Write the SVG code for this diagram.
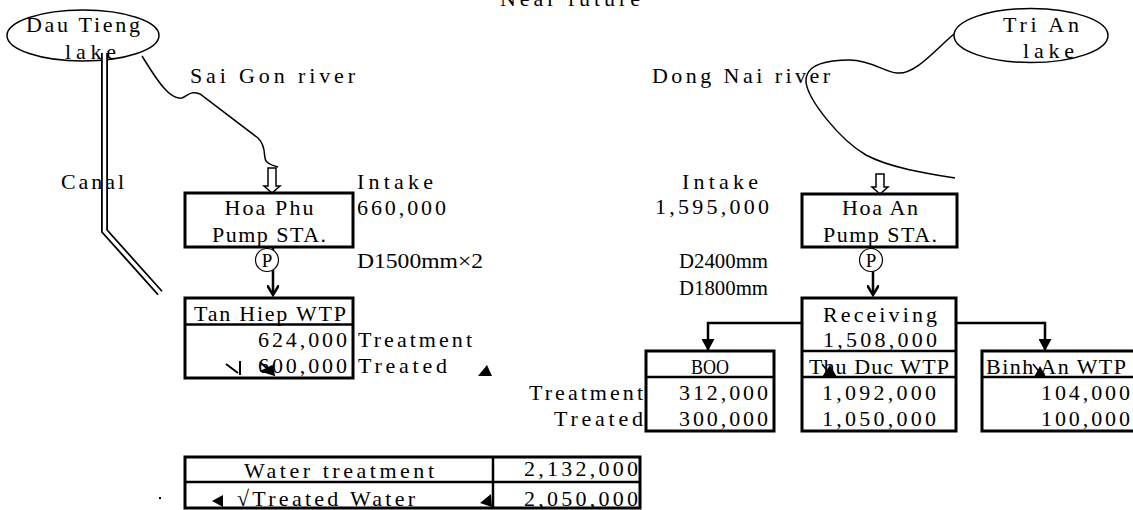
<svg xmlns="http://www.w3.org/2000/svg" width="1133" height="510" viewBox="0 0 1133 510">
<style>
.t{font-family:"Liberation Serif","DejaVu Serif",serif;font-size:22px;fill:#000}
.m{text-anchor:middle}
.e{text-anchor:end}
.pc{fill:#fff;stroke:#000;stroke-width:1.2}
.pt{font-family:"Liberation Serif",serif;font-size:19px;fill:#000;text-anchor:middle}
.box{fill:#fff;stroke:#000;stroke-width:3}
.div{fill:none;stroke:#000;stroke-width:2.5}
.ln{fill:none;stroke:#000;stroke-width:2.5}
.thin{fill:none;stroke:#000;stroke-width:1.5}
.hollow{fill:#fff;stroke:#000;stroke-width:1.5}
.tri{fill:#000;stroke:none}
</style>
<defs>
<marker id="vee" markerWidth="12" markerHeight="12" viewBox="0 0 12 12" refX="10" refY="6" orient="auto" markerUnits="userSpaceOnUse">
<path d="M0,0 L10,6 L0,12" fill="none" stroke="#000" stroke-width="2.5"/>
</marker>
<marker id="solid" markerWidth="13" markerHeight="13" viewBox="0 0 13 13" refX="12" refY="6.5" orient="auto" markerUnits="userSpaceOnUse">
<path d="M0,0 L12,6.5 L0,13 Z" fill="#000"/>
</marker>
</defs>

<text class="t m" x="570" y="6" textLength="140">Near future</text>

<g id="dau-tieng-lake">
<ellipse cx="83" cy="35.5" rx="76" ry="25.5" fill="none" stroke="#000" stroke-width="1.5"/>
<text class="t" x="26" y="32" textLength="114">Dau Tieng</text>
<text class="t" x="65" y="59" textLength="51">lake</text>
</g>

<g id="tri-an-lake">
<ellipse cx="1031" cy="35.5" rx="77" ry="27" fill="none" stroke="#000" stroke-width="1.5"/>
<text class="t" x="1003" y="32" textLength="76">Tri An</text>
<text class="t" x="1023" y="58" textLength="51">lake</text>
</g>

<g id="labels">
<text class="t" x="190" y="83" textLength="165">Sai Gon river</text>
<text class="t" x="652" y="83" textLength="178">Dong Nai river</text>
<text class="t" x="61" y="189" textLength="63">Canal</text>
<text class="t" x="357" y="189" textLength="76">Intake</text>
<text class="t" x="357" y="215" textLength="89">660,000</text>
<text class="t" x="357" y="268" textLength="126" lengthAdjust="spacingAndGlyphs">D1500mm×2</text>
<text class="t" x="682" y="189" textLength="76">Intake</text>
<text class="t" x="655" y="214" textLength="114">1,595,000</text>
<text class="t" x="679" y="268" textLength="89" lengthAdjust="spacingAndGlyphs">D2400mm</text>
<text class="t" x="679" y="295" textLength="89" lengthAdjust="spacingAndGlyphs">D1800mm</text>
<text class="t e" x="643" y="400" textLength="114">Treatment</text>
<text class="t e" x="643" y="426" textLength="89">Treated</text>
</g>

<g id="connectors">
<path d="M104.5,53 L104.5,231 L160,293" fill="none" stroke="#000" stroke-width="7"/>
<path d="M104.5,52 L104.5,231 L161,294" fill="none" stroke="#fff" stroke-width="3.4"/>
<path class="thin" d="M142,56 C158,82 170,100 182,98 C188,96 190,90 200,94 L258,138 C268,148 262,158 267,162 C270,165 274,166 278,167"/>
<path class="thin" d="M954,34 C935,50 915,75 897,73 C885,72 870,60 850,60 C830,60 805,63 806,82 C808,100 840,140 866,155 C890,168 930,174 955,178"/>
<path class="hollow" d="M268,168 L276,168 L276,186 L280,186 L272,193 L264,186 L268,186 Z"/>
<path class="hollow" d="M876,174 L884,174 L884,187 L888,187 L880,194 L872,187 L876,187 Z"/>
<path class="ln" d="M273,247 L273,295" marker-end="url(#vee)"/>
<path class="ln" d="M873,247 L873,295" marker-end="url(#vee)"/>
<path class="ln" d="M802,323 L708,323 L708,351" marker-end="url(#solid)"/>
<path class="ln" d="M956,323 L1045,323 L1045,351" marker-end="url(#solid)"/>
</g>

<g id="hoa-phu-pump">
<rect class="box" x="185" y="193" width="168" height="54"/>
<text class="t m" x="269" y="215" textLength="89">Hoa Phu</text>
<text class="t m" x="269" y="242" textLength="114">Pump STA.</text>
<circle class="pc" cx="267" cy="260" r="11.5" fill="none"/>
<text class="pt" x="267" y="267">P</text>
</g>

<g id="hoa-an-pump">
<rect class="box" x="802" y="194" width="155" height="53"/>
<text class="t m" x="880" y="215" textLength="76">Hoa An</text>
<text class="t m" x="880" y="242" textLength="114">Pump STA.</text>
<circle class="pc" cx="871" cy="260" r="11.5" fill="none"/>
<text class="pt" x="871" y="267">P</text>
</g>

<g id="tan-hiep-wtp">
<rect class="box" x="185" y="298" width="168" height="80"/>
<line class="div" x1="185" y1="324.5" x2="353" y2="324.5"/>
<text class="t m" x="270" y="321" textLength="152">Tan Hiep WTP</text>
<text class="t e" x="347" y="347" textLength="89">624,000</text>
<text class="t e" x="347" y="373" textLength="89">600,000</text>
<text class="t" x="358" y="347" textLength="114">Treatment</text>
<text class="t" x="358" y="373" textLength="89">Treated</text>
<path d="M226,364 L238,373 M240,361 L240,375" fill="none" stroke="#000" stroke-width="2"/>
<path d="M260,362 L273,374 M262,371 L272,366 L274,375 Z" fill="#000" stroke="#000" stroke-width="1.8"/>
<path class="tri" d="M478,376 L487,365 L492,376 Z"/>
</g>

<g id="receiving-thu-duc">
<rect class="box" x="802" y="298" width="154" height="133"/>
<line class="div" x1="802" y1="351" x2="956" y2="351"/>
<line class="div" x1="802" y1="377" x2="956" y2="377"/>
<text class="t m" x="880" y="322" textLength="114">Receiving</text>
<text class="t m" x="880" y="347" textLength="114">1,508,000</text>
<text class="t m" x="879" y="374" textLength="140">Thu Duc WTP</text>
<text class="t m" x="879" y="400" textLength="114">1,092,000</text>
<text class="t m" x="879" y="426" textLength="114">1,050,000</text>
<path class="tri" d="M822,377 L830,365 L837,377 Z"/>
<line x1="822" y1="364" x2="832" y2="377" stroke="#000" stroke-width="1.5"/>
</g>

<g id="boo">
<rect class="box" x="646" y="351" width="128" height="80"/>
<line class="div" x1="646" y1="377" x2="774" y2="377"/>
<text class="t m" x="710" y="374" textLength="38" lengthAdjust="spacingAndGlyphs">BOO</text>
<text class="t e" x="768" y="400" textLength="89">312,000</text>
<text class="t e" x="768" y="426" textLength="89">300,000</text>
</g>

<g id="binh-an-wtp">
<rect class="box" x="982" y="351" width="170" height="80"/>
<line class="div" x1="982" y1="377" x2="1133" y2="377"/>
<text class="t" x="986" y="374" textLength="140">Binh An WTP</text>
<text class="t e" x="1130" y="400" textLength="89">104,000</text>
<text class="t e" x="1130" y="426" textLength="89">100,000</text>
<path class="tri" d="M1034,377 L1040,366 L1046,377 Z"/>
<line x1="1033" y1="364" x2="1041" y2="374" stroke="#000" stroke-width="1.5"/>
</g>

<g id="summary-table">
<rect class="box" x="185" y="457" width="455" height="51"/>
<line class="div" x1="185" y1="482" x2="640" y2="482"/>
<line class="div" x1="493" y1="457" x2="493" y2="508"/>
<text class="t m" x="339" y="478" textLength="190">Water treatment</text>
<text class="t" x="237" y="506" textLength="178">√Treated Water</text>
<text class="t e" x="638" y="476" textLength="114">2,132,000</text>
<text class="t e" x="638" y="506" textLength="114">2,050,000</text>
<path class="tri" d="M212,501 L223,495 L223,507 Z"/>
<path class="tri" d="M480,503 L491,494 L492,507 Z"/>
<rect x="159" y="497" width="2" height="2" fill="#000"/>
</g>
</svg>
